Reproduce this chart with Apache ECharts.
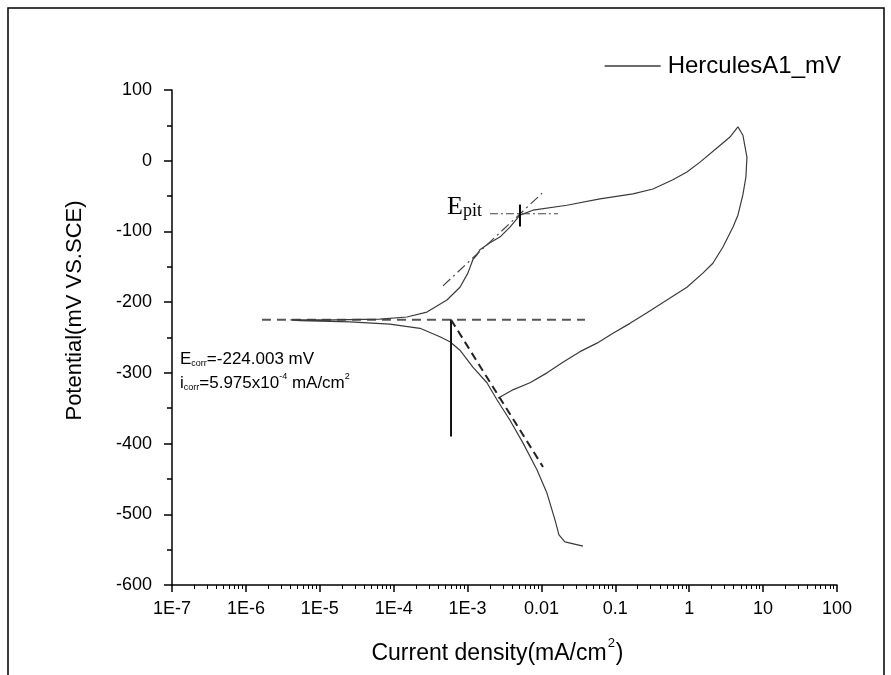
<!DOCTYPE html>
<html>
<head>
<meta charset="utf-8">
<script src="https://cdn.jsdelivr.net/npm/echarts@6/dist/echarts.min.js"></script>
<style>
html,body{margin:0;padding:0;background:#fff;}
#chart{width:891px;height:675px;}
</style>
</head>
<body>
<div id="chart"></div>
<script>
// ---------- data ----------
const seriesName = 'HerculesA1_mV';

// polarization scan: cathodic end -> Ecorr -> anodic -> vertex -> reverse scan
const scanCurrent = [
  0.0365, 0.0208, 0.01725, 0.01525, 0.01187, 0.00869, 0.00562, 0.00375, 0.0025, 0.00183,
  0.00118, 7.89e-4, 5.78e-4, 4.23e-4, 2.27e-4, 8.9e-5, 2.56e-5, 5.4e-6, 4.0e-6,
  1.5e-5, 6.53e-5, 1.51e-4, 2.82e-4, 5.26e-4, 7.89e-4, 1.01e-3, 1.18e-3, 1.34e-3, 1.47e-3,
  2.01e-3, 2.74e-3, 3.75e-3, 5.12e-3, 7.67e-3, 0.0221, 0.0619, 0.173, 0.323, 0.601,
  0.931, 1.40, 2.37, 3.56, 4.56,
  5.33, 6.04, 5.85, 5.33, 4.56, 3.90, 2.86, 2.09, 1.53, 0.931, 0.499, 0.268, 0.158,
  0.0929, 0.0564, 0.0332, 0.0195, 0.0119, 0.00698, 0.00411, 0.00258
];
const scanPotential = [
  -545, -539, -529, -508, -470, -437, -399, -367, -338, -314,
  -292, -268, -256, -249, -237, -231, -228, -226, -225,
  -225, -224, -221, -214, -197, -179, -159, -140, -133, -126,
  -116, -108, -94, -77, -70, -63, -54, -47, -40, -27,
  -16, -2, 18, 33.5, 48,
  36, 5, -23, -48, -77, -94, -122, -145, -159, -179, -197, -215, -230,
  -244, -258, -270, -285, -300, -314, -324, -336
];

// Tafel / construction lines
const ecorrLineCurrent = [1.65e-6, 0.0388];
const ecorrLinePotential = [-225, -225];
const icorrLineCurrent = [5.975e-4, 5.975e-4];
const icorrLinePotential = [-225, -390];
const cathodicTafelCurrent = [5.975e-4, 0.0105];
const cathodicTafelPotential = [-225, -433];
const anodicTafelCurrent = [4.65e-4, 0.0102];
const anodicTafelPotential = [-177, -46];
const epitLineCurrent = [2.01e-3, 0.0167];
const epitLinePotential = [-75, -75];
const epitTickCurrent = [5.12e-3, 5.12e-3];
const epitTickPotential = [-62, -93];

// axis ticks
const xTickLabels = ['1E-7', '1E-6', '1E-5', '1E-4', '1E-3', '0.01', '0.1', '1', '10', '100'];
const xMin = 1e-7, xMax = 100;
const yMin = -600, yMax = 100, yStep = 100;

// ---------- chart ----------
const FONT = "'Liberation Sans', Arial, sans-serif";
const SERIF = "'Liberation Serif', 'Times New Roman', serif";
const zip = (a, b) => a.map((v, i) => [v, b[i]]);

function lineSeries(name, xs, ys, color, width, type, z) {
  return {
    name: name, type: 'line', data: zip(xs, ys), symbol: 'none', silent: true,
    z: z || 2, animation: false,
    lineStyle: { color: color, width: width, type: type }
  };
}

const chart = echarts.init(document.getElementById('chart'), null, { renderer: 'canvas' });

const option = {
  backgroundColor: '#fff',
  animation: false,
  grid: { left: 172, right: 54, top: 90, bottom: 90, containLabel: false },
  legend: {
    data: [seriesName], left: 604, top: 54, padding: 0,
    itemWidth: 56, itemHeight: 12,
    itemStyle: { color: 'rgba(0,0,0,0)', opacity: 0, borderWidth: 0 },
    lineStyle: { width: 1.3, color: '#3a3a3a' },
    textStyle: { fontSize: 24, color: '#000', fontFamily: FONT, padding: [0, 0, 0, 2] }
  },
  xAxis: {
    type: 'log', logBase: 10, min: xMin, max: xMax, splitNumber: 9,
    name: '{a|Current density(mA/cm}{b|2}{a|)}',
    nameLocation: 'middle', nameGap: 52,
    nameTextStyle: {
      padding: [0, 14, 0, 0],
      rich: {
        a: { fontSize: 23, color: '#000', fontFamily: FONT, lineHeight: 28, verticalAlign: 'bottom' },
        b: { fontSize: 13, color: '#000', fontFamily: FONT, lineHeight: 28, verticalAlign: 'top', padding: [0, 1, 0, 1] }
      }
    },
    axisLine: { show: true, onZero: false, lineStyle: { color: '#000', width: 1.5 } },
    axisTick: { show: true, inside: false, length: 7, lineStyle: { color: '#000', width: 1.5 } },
    minorTick: { show: true, splitNumber: 9, length: 4, lineStyle: { color: '#000', width: 1 } },
    splitLine: { show: false },
    minorSplitLine: { show: false },
    axisLabel: {
      interval: 0, margin: 15, fontSize: 18, color: '#000', fontFamily: FONT,
      showMinLabel: true, showMaxLabel: true,
      formatter: function (v) {
        const idx = Math.round(Math.log10(v)) + 7;
        return xTickLabels[idx] !== undefined ? xTickLabels[idx] : '';
      }
    }
  },
  yAxis: {
    type: 'value', min: yMin, max: yMax, interval: yStep,
    name: 'Potential(mV VS.SCE)', nameLocation: 'middle', nameGap: 86,
    nameTextStyle: { fontSize: 22, color: '#000', fontFamily: FONT, padding: [0, 0, 0, 54] },
    axisLine: { show: true, onZero: false, lineStyle: { color: '#000', width: 1.5 } },
    axisTick: { show: true, inside: false, length: 8, lineStyle: { color: '#000', width: 1.5 } },
    minorTick: { show: true, splitNumber: 2, length: 5, lineStyle: { color: '#000', width: 1.5 } },
    splitLine: { show: false },
    axisLabel: { margin: 20, fontSize: 18, color: '#000', fontFamily: FONT }
  },
  series: [
    lineSeries('ecorr', ecorrLineCurrent, ecorrLinePotential, '#555', 2, [9, 6], 1),
    lineSeries('icorr', icorrLineCurrent, icorrLinePotential, '#111', 2, 'solid', 3),
    lineSeries('cathodicTafel', cathodicTafelCurrent, cathodicTafelPotential, '#222', 2, [8, 5], 3),
    lineSeries('anodicTafel', anodicTafelCurrent, anodicTafelPotential, '#444', 1.2, [10, 4, 2, 4], 3),
    lineSeries('epitLine', epitLineCurrent, epitLinePotential, '#444', 1.2, [8, 3, 2, 3], 3),
    lineSeries('epitTick', epitTickCurrent, epitTickPotential, '#000', 2, 'solid', 4),
    {
      name: seriesName, type: 'line', data: zip(scanCurrent, scanPotential),
      symbol: 'none', silent: true, z: 2, animation: false,
      lineStyle: { color: '#3a3a3a', width: 1.2 },
      itemStyle: { color: '#3a3a3a' }
    }
  ],
  graphic: [
    {
      type: 'rect', silent: true, z: 0,
      shape: { x: 8, y: 8, width: 876, height: 720 },
      style: { fill: 'none', stroke: '#000', lineWidth: 1.5 }
    },
    {
      type: 'text', x: 180, y: 348, silent: true, z: 10,
      style: {
        text: '{m|E}{s|corr}{m|=-224.003 mV}', verticalAlign: 'top', align: 'left',
        rich: {
          m: { fontSize: 17, fontFamily: FONT, fill: '#000', lineHeight: 20, verticalAlign: 'bottom' },
          s: { fontSize: 9, fontFamily: FONT, fill: '#000', lineHeight: 15, verticalAlign: 'bottom' }
        }
      }
    },
    {
      type: 'text', x: 180, y: 372, silent: true, z: 10,
      style: {
        text: '{m|i}{s|corr}{m|=5.975x10}{p|-4}{m| mA/cm}{p|2}', verticalAlign: 'top', align: 'left',
        rich: {
          m: { fontSize: 17, fontFamily: FONT, fill: '#000', lineHeight: 20, verticalAlign: 'bottom' },
          s: { fontSize: 9, fontFamily: FONT, fill: '#000', lineHeight: 15, verticalAlign: 'bottom' },
          p: { fontSize: 9, fontFamily: FONT, fill: '#000', lineHeight: 10, verticalAlign: 'top' }
        }
      }
    },
    {
      type: 'text', x: 447, y: 192, silent: true, z: 10,
      style: {
        text: '{e|E}{p|pit}', verticalAlign: 'top', align: 'left',
        rich: {
          e: { fontSize: 26, fontFamily: SERIF, fill: '#000', lineHeight: 28, verticalAlign: 'bottom' },
          p: { fontSize: 18, fontFamily: SERIF, fill: '#000', lineHeight: 21, verticalAlign: 'bottom' }
        }
      }
    }
  ]
};
chart.setOption(option);
</script>
</body>
</html>
